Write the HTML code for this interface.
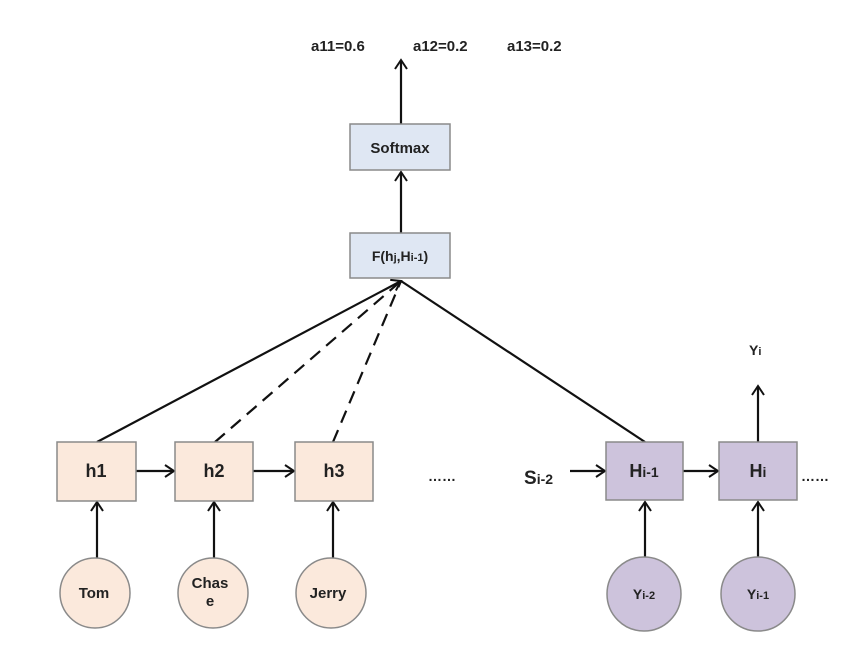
<!DOCTYPE html>
<html><head><style>
html,body{margin:0;padding:0;background:#fff;}
svg{display:block;}
text{font-family:"Liberation Sans",sans-serif;font-weight:bold;fill:#222;}
</style></head><body>
<svg width="860" height="656" viewBox="0 0 860 656" xmlns="http://www.w3.org/2000/svg">
<defs>
<marker id="a" markerWidth="14" markerHeight="14" refX="11" refY="7" orient="auto" markerUnits="userSpaceOnUse">
<path d="M2,1 L11,7 L2,13" fill="none" stroke="#111" stroke-width="2"/>
</marker>
</defs>
<g stroke="#111" stroke-width="2.2" fill="none">
<line x1="401" y1="124" x2="401" y2="60" marker-end="url(#a)"/>
<line x1="401" y1="233" x2="401" y2="172" marker-end="url(#a)"/>
<line x1="97" y1="442" x2="401" y2="281" marker-end="url(#a)"/>
<line x1="215" y1="442" x2="401" y2="281" stroke-dasharray="13,8"/>
<line x1="333" y1="442" x2="401" y2="281" stroke-dasharray="13,8"/>
<line x1="645" y1="442" x2="401" y2="281"/>
<line x1="136" y1="471" x2="174" y2="471" marker-end="url(#a)"/>
<line x1="253" y1="471" x2="294" y2="471" marker-end="url(#a)"/>
<line x1="570" y1="471" x2="605" y2="471" marker-end="url(#a)"/>
<line x1="683" y1="471" x2="718" y2="471" marker-end="url(#a)"/>
<line x1="758" y1="442" x2="758" y2="386" marker-end="url(#a)"/>
<line x1="97" y1="558" x2="97" y2="502" marker-end="url(#a)"/>
<line x1="214" y1="558" x2="214" y2="502" marker-end="url(#a)"/>
<line x1="333" y1="558" x2="333" y2="502" marker-end="url(#a)"/>
<line x1="645" y1="557" x2="645" y2="502" marker-end="url(#a)"/>
<line x1="758" y1="557" x2="758" y2="502" marker-end="url(#a)"/>
</g>
<g stroke="#8a8a8a" stroke-width="1.5">
<rect x="350" y="124" width="100" height="46" fill="#dfe7f3"/>
<rect x="350" y="233" width="100" height="45" fill="#dfe7f3"/>
<rect x="57" y="442" width="79" height="59" fill="#fbe9dc"/>
<rect x="175" y="442" width="78" height="59" fill="#fbe9dc"/>
<rect x="295" y="442" width="78" height="59" fill="#fbe9dc"/>
<rect x="606" y="442" width="77" height="58" fill="#cdc3dc"/>
<rect x="719" y="442" width="78" height="58" fill="#cdc3dc"/>
<circle cx="95" cy="593" r="35" fill="#fbe9dc"/>
<circle cx="213" cy="593" r="35" fill="#fbe9dc"/>
<circle cx="331" cy="593" r="35" fill="#fbe9dc"/>
<circle cx="644" cy="594" r="37" fill="#cdc3dc"/>
<circle cx="758" cy="594" r="37" fill="#cdc3dc"/>
</g>
<g font-size="15">
<text x="311" y="51">a11=0.6</text>
<text x="413" y="51">a12=0.2</text>
<text x="507" y="51">a13=0.2</text>
<text x="400" y="153" text-anchor="middle">Softmax</text>
<text x="400" y="261" text-anchor="middle" font-size="14">F(h<tspan font-size="11">j</tspan>,H<tspan font-size="11">i-1</tspan>)</text>
<text x="96" y="477" text-anchor="middle" font-size="18">h1</text>
<text x="214" y="477" text-anchor="middle" font-size="18">h2</text>
<text x="334" y="477" text-anchor="middle" font-size="18">h3</text>
<text x="428" y="481" font-size="14">……</text>
<text x="644" y="477" text-anchor="middle" font-size="18">H<tspan font-size="14">i-1</tspan></text>
<text x="758" y="477" text-anchor="middle" font-size="18">H<tspan font-size="14">i</tspan></text>
<text x="801" y="481" font-size="14">……</text>
<text x="524" y="484" font-size="19">S<tspan font-size="14">i-2</tspan></text>
<text x="749" y="355" font-size="14">Y<tspan font-size="11">i</tspan></text>
<text x="94" y="598" text-anchor="middle">Tom</text>
<text x="210" y="588" text-anchor="middle">Chas</text>
<text x="210" y="606" text-anchor="middle">e</text>
<text x="328" y="598" text-anchor="middle">Jerry</text>
<text x="644" y="599" text-anchor="middle" font-size="14">Y<tspan font-size="11">i-2</tspan></text>
<text x="758" y="599" text-anchor="middle" font-size="14">Y<tspan font-size="11">i-1</tspan></text>
</g>
</svg>
</body></html>
